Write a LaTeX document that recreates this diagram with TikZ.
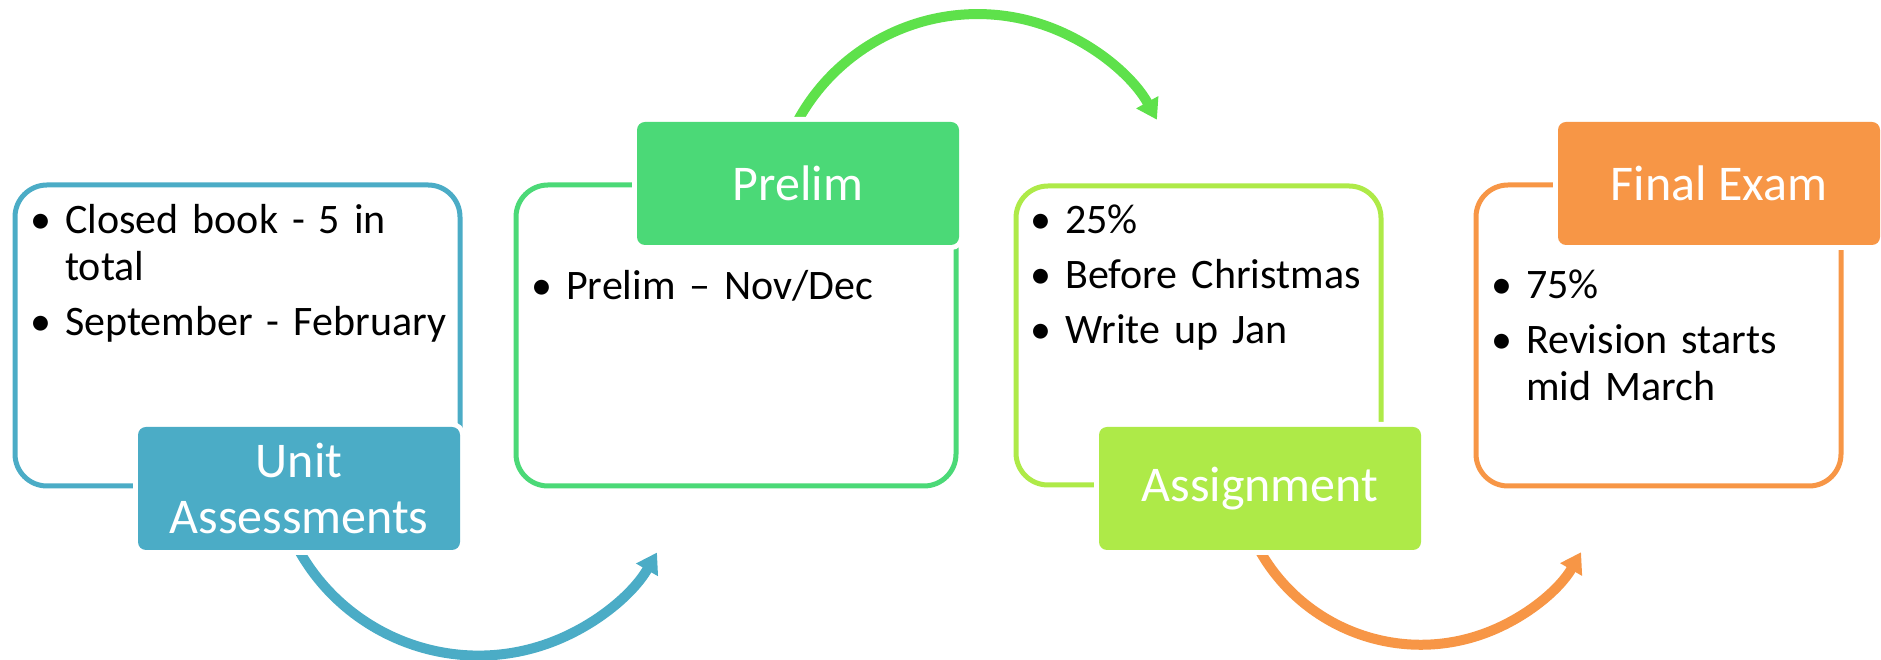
\documentclass[tikz,border=0pt]{standalone}
\usepackage{fontspec}
\setmainfont{Carlito}
\usetikzlibrary{arrows.meta,backgrounds}
\definecolor{aqua}{HTML}{4BACC6}
\definecolor{leaf}{HTML}{4BD977}
\definecolor{sprout}{HTML}{5EE14B}
\definecolor{limeg}{HTML}{AEEA48}
\definecolor{tang}{HTML}{F79646}
\newcommand{\bul}{\leavevmode\llap{\makebox[48pt][c]{\textbullet}}}
\newcommand{\tightsp}{\spaceskip=0.23em\relax}

\begin{document}
\begin{tikzpicture}[x=1pt, y=1pt,
panel/.style={draw=#1, line width=5pt, rounded corners=32pt, outer sep=0, minimum height=301pt},
tag/.style={fill=#1, preaction={draw=white, line width=10pt}, rounded corners=8pt, outer sep=0, inner sep=0, minimum width=322pt, minimum height=123pt, text=white, align=center, font=\fontsize{50}{56}\selectfont},
blist/.style={anchor=base west, text width=400pt, inner sep=0, font=\fontsize{42}{47}\selectfont\tightsp},
flow/.style={draw=#1, line width=10pt, -{Triangle[length=20pt,width=24pt]}}]
	\useasboundingbox (0,0) rectangle (1881,660);
	\node[panel=aqua, minimum width=445pt] at (237.5,324.5) (unit) {};
	\node[panel=leaf, minimum width=440pt] at (736,324.5) (prelim) {};
	\node[panel=limeg, minimum width=365pt, minimum height=299pt] at (1198.5,324.5) (assign) {};
	\node[panel=tang, minimum width=365pt] at (1658.5,324.5) (final) {};
	\node[tag=aqua, anchor=south east] at ([yshift=-64pt]unit.south east) (unitlab) {Unit\\Assessments};
	\node[tag=leaf, anchor=north east] at ([shift={(3pt,63pt)}]prelim.north east) (prelimlab) {Prelim};
	\node[tag=limeg, anchor=south east] at ([shift={(40pt,-65pt)}]assign.south east) (assignlab) {Assignment};
	\node[tag=tang, anchor=north east] at ([shift={(39pt,63pt)}]final.north east) (finallab) {Final Exam};
	\begin{scope}[on background layer]
		\draw[flow=aqua] ([shift={(-14pt,30pt)}]unitlab.south) arc[start angle=200, end angle=330, radius=206pt];
		\draw[flow=sprout] ([shift={(-13pt,-27pt)}]prelimlab.north) arc[start angle=160, end angle=29, radius=205pt];
		\draw[flow=tang] ([shift={(-13pt,27pt)}]assignlab.south) arc[start angle=200, end angle=330, radius=185pt];
	\end{scope}
	\node[blist] at ([shift={(50pt,-49pt)}]unit.north west) (unittxt) {\bul Closed book - 5 in\\total\\[8pt]\bul September - February};
	\node[blist] at ([shift={(50pt,-115pt)}]prelim.north west) (prelimtxt) {\bul Prelim – Nov/Dec};
	\node[blist] at ([shift={(49pt,-48pt)}]assign.north west) (assigntxt) {\bul 25\%\\[8pt]\bul Before Christmas\\[8pt]\bul Write up Jan};
	\node[blist] at ([shift={(50pt,-114pt)}]final.north west) (finaltxt) {\bul 75\%\\[8pt]\bul Revision starts\\mid March};
\end{tikzpicture}
\end{document}
